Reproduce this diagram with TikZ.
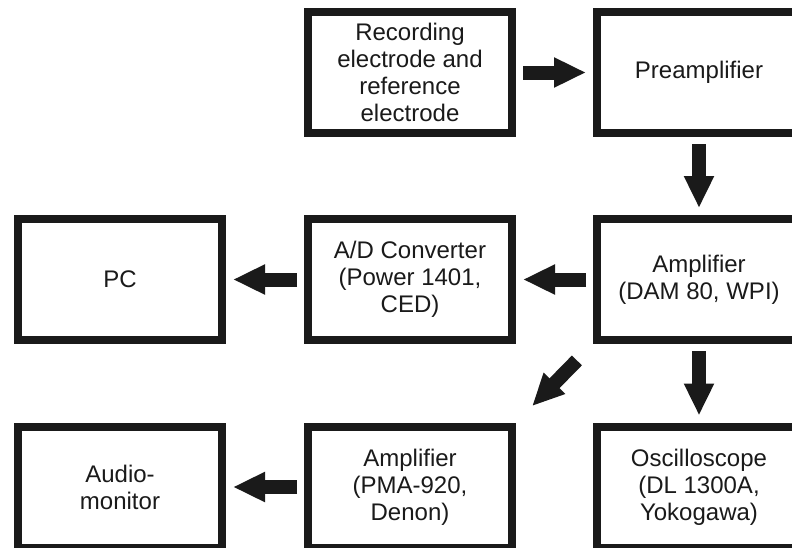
\documentclass[tikz,border=0pt]{standalone}
\usepackage{fontspec}
\setmainfont{Liberation Sans}
\usetikzlibrary{arrows.meta, positioning}
\definecolor{ink}{RGB}{26,26,26}

\begin{document}
\begin{tikzpicture}[x=1pt, y=-1pt,
    box/.style={draw=ink, line width=8pt, fill=white, minimum width=204pt, minimum height=121pt,
        inner sep=0pt, align=center, text=ink, font=\fontsize{24}{27}\selectfont},
    flow/.style={draw=ink, line width=14pt, -{Triangle[length=32pt, width=28pt]},
        shorten <=7pt, shorten >=7pt}
]
    % Page frame
    \useasboundingbox (0,0) rectangle (792,547);
    \clip (0,0) rectangle (792,547);

    % Top row
    \node[box] (rec) at (410,72.5) {Recording\\electrode and\\reference\\electrode};
    \node[box] (pre) at (699,72.5) {Preamplifier};

    % Middle row
    \node[box] (pc) at (120,279.5) {PC};
    \node[box] (adc) at (410,279.5) {A/D Converter\\(Power 1401,\\CED)};
    \node[box] (amp) at (699,279.5) {Amplifier\\(DAM 80, WPI)};

    % Bottom row
    \node[box] (audio) at (120,487) {Audio-\\monitor};
    \node[box] (pma) at (410,487) {Amplifier\\(PMA-920,\\Denon)};
    \node[box] (osc) at (699,487) {Oscilloscope\\(DL 1300A,\\Yokogawa)};

    % Signal path
    \draw[flow] (rec) -- (pre);
    \draw[flow] (pre) -- (amp);
    \draw[flow] (amp) -- (adc);
    \draw[flow] (adc) -- (pc);
    \draw[flow] (amp) -- (osc);
    \draw[flow, shorten <=23pt, shorten >=23pt] (amp.south west) -- (pma.north east);
    \draw[flow] (pma) -- (audio);
\end{tikzpicture}
\end{document}
